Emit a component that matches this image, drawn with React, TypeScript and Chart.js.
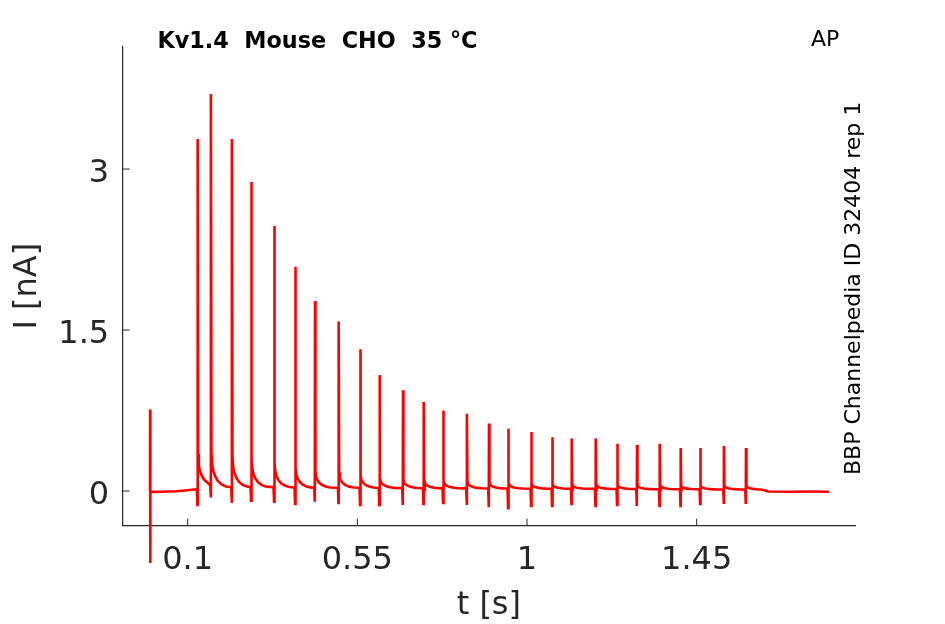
import { useEffect, useRef } from 'react';
import Chart from 'chart.js/auto';

// spike train (time in s, current in nA)
const spikeTimes = [
  0.1265, 0.1618, 0.2175, 0.2687, 0.3297, 0.3854, 0.4377, 0.5005, 0.5578,
  0.6088, 0.6711, 0.726, 0.778, 0.8408, 0.8992, 0.9504, 1.0114, 1.0671,
  1.1186, 1.1822, 1.2395, 1.2918, 1.352, 1.4077, 1.4597, 1.5225, 1.5809,
];
const spikePeaks = [
  3.28, 3.7, 3.28, 2.88, 2.47, 2.09, 1.77, 1.58, 1.32,
  1.08, 0.94, 0.83, 0.75, 0.72, 0.63, 0.58, 0.55, 0.5,
  0.49, 0.49, 0.44, 0.43, 0.44, 0.4, 0.4, 0.42, 0.4,
];
const spikeDips = [
  -0.13, -0.06, -0.11, -0.09, -0.1, -0.12, -0.1, -0.11, -0.13,
  -0.13, -0.13, -0.12, -0.11, -0.13, -0.15, -0.16, -0.14, -0.14,
  -0.12, -0.14, -0.13, -0.14, -0.14, -0.14, -0.12, -0.12, -0.12,
];
const spikeBase = [
  0.018, 0.05, 0.035, 0.035, 0.035, 0.033, 0.03, 0.03, 0.03,
  0.028, 0.027, 0.026, 0.025, 0.025, 0.024, 0.023, 0.022, 0.021,
  0.02, 0.02, 0.019, 0.018, 0.017, 0.016, 0.016, 0.015, 0.015,
];
// decay after each spike, as a share of its peak
const tailOffsets = [0.0012, 0.003, 0.006, 0.011, 0.018, 0.028, 0.04];
const tailShare = [0.09, 0.058, 0.042, 0.028, 0.016, 0.007, 0.002];

// stimulus artefact and baseline before the train
const startTimes = [0, 0.0003, 0.0006, 0.0012, 0.03, 0.07, 0.1];
const startValues = [0, 0.76, -0.67, -0.008, -0.006, -0.002, 0.008];
// baseline after the train
const endTimes = [1.62, 1.63, 1.64, 1.7, 1.75, 1.801];
const endValues = [0.014, 0.008, -0.004, -0.006, -0.005, -0.006];

const xTicks = [0.1, 0.55, 1, 1.45];
const yTicks = [0, 1.5, 3];

const buildTrace = () => {
  const pts: { x: number; y: number }[] = [];
  startTimes.forEach((t, i) => pts.push({ x: t, y: startValues[i] }));
  spikeTimes.forEach((t, i) => {
    const last = i === spikeTimes.length - 1;
    const next = last ? endTimes[0] : spikeTimes[i + 1];
    const after = last ? endValues[0] : spikeBase[i + 1];
    pts.push({ x: t - 0.002, y: spikeBase[i] });
    pts.push({ x: t - 0.0006, y: spikeDips[i] });
    pts.push({ x: t, y: spikePeaks[i] });
    tailOffsets.forEach((o, k) => {
      if (t + o < next - 0.003) pts.push({ x: t + o, y: after + tailShare[k] * spikePeaks[i] });
    });
  });
  endTimes.forEach((t, i) => pts.push({ x: t, y: endValues[i] }));
  return pts;
};

const INK = '#262626';
const FONT = 'DejaVu Sans';

const decorations = {
  id: 'decorations',
  afterDraw(chart: any) {
    const { ctx, chartArea, scales } = chart;
    ctx.save();
    // inward tick marks
    ctx.strokeStyle = INK;
    ctx.lineWidth = 1;
    ctx.beginPath();
    xTicks.forEach((v) => {
      const px = scales.x.getPixelForValue(v);
      ctx.moveTo(px, chartArea.bottom);
      ctx.lineTo(px, chartArea.bottom - 7);
    });
    yTicks.forEach((v) => {
      const py = scales.y.getPixelForValue(v);
      ctx.moveTo(chartArea.left, py);
      ctx.lineTo(chartArea.left + 7, py);
    });
    ctx.stroke();

    ctx.fillStyle = INK;
    ctx.font = `32px "${FONT}"`;
    // y tick labels, sat a little lower than chart.js would put them
    ctx.textAlign = 'right';
    ctx.textBaseline = 'alphabetic';
    yTicks.forEach((v) => {
      ctx.fillText(String(v), chartArea.left - 13.5, scales.y.getPixelForValue(v) + 13);
    });

    ctx.textAlign = 'center';
    ctx.fillText('t [s]', (chartArea.left + chartArea.right) / 2, 614);
    ctx.save();
    ctx.translate(36, (chartArea.top + chartArea.bottom) / 2);
    ctx.rotate(-Math.PI / 2);
    ctx.fillText('I [nA]', 0, 0);
    ctx.restore();

    ctx.fillStyle = '#000';
    ctx.textAlign = 'left';
    ctx.font = `bold 22.3px "${FONT}"`;
    ctx.fillText('Kv1.4  Mouse  CHO  35 °C', 157.5, 47.5);
    ctx.font = `22px "${FONT}"`;
    ctx.fillText('AP', 811, 46);
    ctx.save();
    ctx.translate(859.5, 475);
    ctx.rotate(-Math.PI / 2);
    ctx.fillText('BBP Channelpedia ID 32404 rep 1', 0, 0);
    ctx.restore();
    ctx.restore();
  },
};

const App = () => {
  const canvasRef = useRef<HTMLCanvasElement>(null);

  useEffect(() => {
    if (!canvasRef.current) return;
    const chart = new Chart(canvasRef.current, {
      type: 'line',
      data: {
        datasets: [
          {
            data: buildTrace(),
            borderColor: '#ff0000',
            borderWidth: 2.6,
            pointRadius: 0,
            tension: 0,
            clip: false,
          },
        ],
      },
      options: {
        animation: false,
        responsive: false,
        devicePixelRatio: 1,
        layout: { padding: { left: 22.7, right: 90, top: 46.7, bottom: 0 } },
        plugins: { legend: { display: false }, tooltip: { enabled: false } },
        scales: {
          x: {
            type: 'linear',
            min: -0.0724,
            max: 1.87,
            afterBuildTicks: (s: any) => {
              s.ticks = xTicks.map((v) => ({ value: v }));
            },
            afterFit: (s: any) => {
              s.height = 98.3;
            },
            grid: { display: false, drawTicks: false },
            border: { display: true, color: INK, width: 1.2 },
            ticks: {
              padding: 16,
              color: INK,
              font: { family: FONT, size: 32 },
              maxRotation: 0,
              callback: (v: any) => String(v),
            },
          },
          y: {
            type: 'linear',
            min: -0.323,
            max: 4.14,
            afterFit: (s: any) => {
              s.width = 100;
            },
            grid: { display: false, drawTicks: false },
            border: { display: true, color: INK, width: 1.2 },
            ticks: { display: false },
          },
        },
      },
      plugins: [decorations],
    });
    return () => chart.destroy();
  }, []);

  return (
    <div style={{ position: 'absolute', left: 0, top: 0, width: 945, height: 624, background: '#fff' }}>
      <canvas ref={canvasRef} width={945} height={624} />
    </div>
  );
};

export default App;
